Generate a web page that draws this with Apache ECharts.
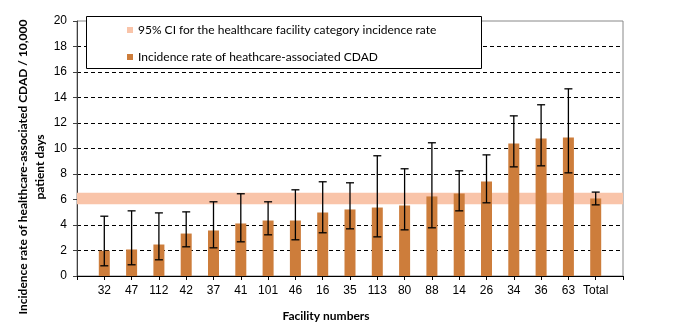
<!DOCTYPE html>
<html><head><meta charset="utf-8">
<script src="https://cdn.jsdelivr.net/npm/echarts@6/dist/echarts.min.js"></script>
<style>html,body{margin:0;padding:0;background:#fff}#c{width:679px;height:335px}</style>
</head><body><div id="c"></div>
<script>
var categories = ['32','47','112','42','37','41','101','46','16','35','113','80','88','14','26','34','36','63','Total'];
var rates = [1.98,2.08,2.47,3.33,3.57,4.12,4.35,4.35,4.98,5.22,5.37,5.53,6.24,6.47,7.41,10.39,10.78,10.86,6.08];
var ciLower = [0.80,0.88,1.27,2.29,2.21,2.68,3.23,2.84,3.39,3.70,3.07,3.62,3.78,5.11,5.74,8.56,8.64,8.09,5.58];
var ciUpper = [4.69,5.11,4.95,5.03,5.82,6.45,5.82,6.76,7.39,7.31,9.43,8.41,10.45,8.25,9.50,12.56,13.43,14.68,6.58];
var categoryBand = [5.63, 6.52];
var yTicks = [0,2,4,6,8,10,12,14,16,18,20];
var seriesNames = ['95% CI for the healthcare facility category incidence rate','Incidence rate of heathcare-associated CDAD'];

var axisCats = [''].concat(categories).concat(['']);
var barData = ['-'].concat(rates).concat(['-']);
var errData = categories.map(function(c,i){ return [i+1, ciLower[i], ciUpper[i]]; });

var chart = echarts.init(document.getElementById('c'));
chart.setOption({
  animation:false,
  backgroundColor:'#fff',
  grid:{left:77,right:56,top:21,bottom:59,show:true,borderColor:'#888',borderWidth:1,backgroundColor:'transparent'},
  legend:{
    left:86, top:16, orient:'vertical', padding:[8,0,8,41], itemGap:15, z:6,
    itemWidth:6, itemHeight:6, selectedMode:false,
    textStyle:{fontFamily:'Lato',fontSize:12,color:'#000'},
    data:[{name:seriesNames[0],icon:'rect',itemStyle:{color:'#F9C4A9'}},{name:seriesNames[1],icon:'rect',itemStyle:{color:'#CD7D3B'}}]
  },
  xAxis:{
    type:'category', data:axisCats, boundaryGap:false,
    axisLine:{lineStyle:{color:'#000',width:1}},
    axisTick:{show:true,length:4,lineStyle:{color:'#000'},interval:0},
    axisLabel:{interval:0,margin:9,fontFamily:'Liberation Sans',fontSize:12,color:'#000'},
    splitLine:{show:false}
  },
  yAxis:{
    type:'value', min:yTicks[0], max:yTicks[yTicks.length-1], interval:2,
    axisLine:{show:true,lineStyle:{color:'#404040',width:1}},
    axisTick:{show:true,length:4,lineStyle:{color:'#404040'}},
    axisLabel:{margin:10,fontFamily:'Liberation Sans',fontSize:12,color:'#000'},
    splitLine:{show:true,showMinLine:false,showMaxLine:false,lineStyle:{color:'#000',type:[4,3],width:1}}
  },
  graphic:[
    {type:'rect',z:5,shape:{x:86.5,y:16.5,width:395,height:52},style:{fill:'#fff',stroke:'#000',lineWidth:1}},
    {type:'text',x:23,y:167,rotation:Math.PI/2,z:10,style:{text:'Incidence rate of healthcare-associated CDAD / 10,000',fill:'#000',font:'bold 12px Lato',textAlign:'center',textVerticalAlign:'middle'}},
    {type:'text',x:40,y:167,rotation:Math.PI/2,z:10,style:{text:'patient days',fill:'#000',font:'bold 12px Lato',textAlign:'center',textVerticalAlign:'middle'}},
    {type:'text',x:326,y:316,z:10,style:{text:'Facility numbers',fill:'#000',font:'bold 12px Lato',textAlign:'center',textVerticalAlign:'middle'}}
  ],
  series:[
    {name:seriesNames[0],type:'line',data:[],z:1,itemStyle:{color:'#F9C4A9'},
     markArea:{silent:true,itemStyle:{color:'#F9C4A9',opacity:1},data:[[{yAxis:categoryBand[0]},{yAxis:categoryBand[1]}]]}},
    {name:seriesNames[1],type:'bar',data:barData,barWidth:11,z:2,itemStyle:{color:'#CD7D3B'}},
    {name:'err',type:'custom',z:3,data:errData,encode:{x:0,y:[1,2]},
     renderItem:function(params,api){
       var x=api.value(0);
       var lo=api.coord([x,api.value(1)]);
       var hi=api.coord([x,api.value(2)]);
       var w=4, st={stroke:'#000',lineWidth:1.3};
       return {type:'group',children:[
         {type:'line',shape:{x1:lo[0],y1:lo[1],x2:hi[0],y2:hi[1]},style:st},
         {type:'line',shape:{x1:lo[0]-w,y1:lo[1],x2:lo[0]+w,y2:lo[1]},style:st},
         {type:'line',shape:{x1:hi[0]-w,y1:hi[1],x2:hi[0]+w,y2:hi[1]},style:st}
       ]};
     }}
  ]
});
</script></body></html>
